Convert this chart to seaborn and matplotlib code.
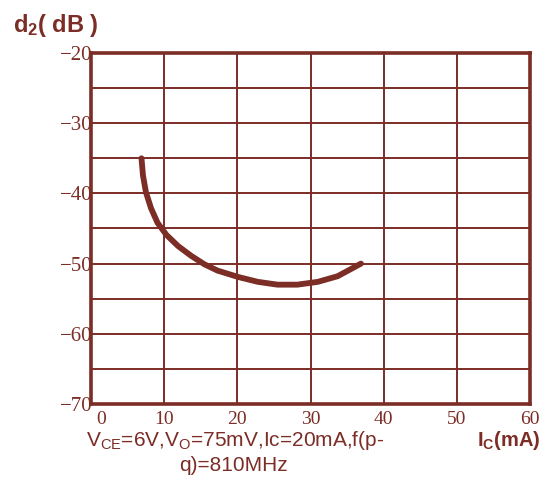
import numpy as np
import pandas as pd
import seaborn as sns
import matplotlib.pyplot as plt
from matplotlib.transforms import ScaledTranslation

# curve (Ic in mA, d2 in dB)
ic_ma = [6.9, 7.1, 7.5, 8.2, 9.1, 10.3, 11.9, 13.7, 15.5, 17.3, 20.1, 22.8,
         25.5, 28.2, 31.0, 33.7, 36.9]
d2_db = [-35.0, -37.4, -39.8, -42.1, -44.2, -45.9, -47.5, -48.9, -50.1, -51.0,
         -51.9, -52.6, -53.0, -53.0, -52.6, -51.8, -50.0]

x_ticks = [0, 10, 20, 30, 40, 50, 60]
y_ticks = [-70, -60, -50, -40, -30, -20]
y_minor = [-65, -55, -45, -35, -25]

col = "#7b2d26"

sns.set_style("white")
plt.rcParams['font.family'] = ['Liberation Sans', 'DejaVu Sans']
plt.rcParams['mathtext.fontset'] = 'custom'
plt.rcParams['mathtext.rm'] = 'Liberation Sans'
plt.rcParams['mathtext.bf'] = 'Liberation Sans:bold'

df = pd.DataFrame({"ic": ic_ma, "d2": d2_db})

fig = plt.figure(figsize=(5.51, 4.79), dpi=100)
ax = fig.add_axes([91 / 551, 75 / 479, 439 / 551, 351 / 479])

sns.lineplot(data=df, x="ic", y="d2", ax=ax, color=col, lw=4.2,
             solid_capstyle="round", solid_joinstyle="round", sort=False)

ax.set_xlim(0, 60)
ax.set_ylim(-70, -20)
ax.set_xticks(x_ticks)
ax.set_yticks(y_ticks)
ax.set_yticks(y_minor, minor=True)
ax.set_xticklabels([str(v) for v in x_ticks], family="Liberation Serif", fontsize=14)
ax.set_yticklabels(["\u2212%d" % abs(v) for v in y_ticks], family="Liberation Serif", fontsize=15)
ax.tick_params(axis="both", which="both", length=0, colors=col)
ax.tick_params(axis="y", pad=-1)
ax.tick_params(axis="x", pad=5)
# the "0" label sits a little right of its tick in the reference
lab0 = ax.get_xticklabels()[0]
lab0.set_transform(lab0.get_transform() + ScaledTranslation(7 / 72, 0, fig.dpi_scale_trans))
ax.grid(True, which="both", color=col, lw=1.4)
ax.set_axisbelow(True)
for s in ax.spines.values():
    s.set_color(col)
    s.set_linewidth(2.6)
    s.set_visible(True)
ax.set_xlabel("")
ax.set_ylabel("")

fig.text(13 / 551, 1 - 32 / 479, r"$\mathbf{d_{2}}$( dB )", color=col,
         fontsize=17, fontweight="bold", ha="left", va="baseline")
fig.text(540 / 551, 1 - 446 / 479, r"$\mathbf{I_{C}(mA)}$", color=col,
         fontsize=14.5, ha="right", va="baseline")
fig.text(235 / 551, 1 - 446 / 479,
         "$\\mathrm{V_{CE}}$=6V,$\\mathrm{V_{O}}$=75mV,Ic=20mA,f(p-",
         color=col, fontsize=15, ha="center", va="baseline")
fig.text(233 / 551, 1 - 471 / 479, "q)=810MHz",
         color=col, fontsize=15, ha="center", va="baseline")

fig.savefig("out.png", dpi=100)
plt.close(fig)
